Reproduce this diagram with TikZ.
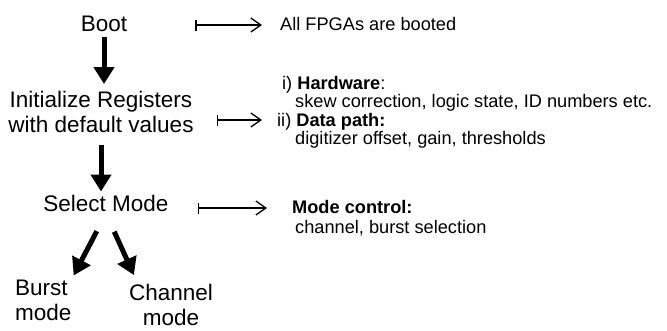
\documentclass[tikz,border=0pt]{standalone}
\usepackage{fontspec}
\setmainfont{Liberation Sans}
\usepackage{tikz}
\usetikzlibrary{arrows.meta, positioning, calc}
\tikzstyle{bigtext} = [font=\fontsize{22.5}{25}\selectfont, inner sep=2pt, align=center]
\tikzstyle{sidetext} = [font=\fontsize{18.2}{17}\selectfont, inner sep=0pt, anchor=west, text height=13pt, text depth=3pt]
\tikzstyle{bigarrow} = [draw, -{Triangle[width=20pt,length=17pt]}, line width=5pt]
\tikzstyle{maparrow} = [draw, {Bar[width=11pt]}-{Straight Barb[length=10pt,width=14pt]}, line width=1.3pt]

\begin{document}
\begin{tikzpicture}[x=1pt, y=1pt]
    \useasboundingbox (0,0) rectangle (667,-330);

    % Boot sequence
    \node (boot) [bigtext] at (104,-24) {Boot};
    \node (init) [bigtext] at (101,-112) {Initialize Registers\\with default values};
    \node (select) [bigtext] at (106,-203) {Select Mode};
    \node (burst) [bigtext, align=left, anchor=west] at (13,-300) {Burst\\mode};
    \node (channel) [bigtext] at (171,-305) {Channel\\mode};

    % Descriptions
    \node (booted) [sidetext] at (280,-25) {All FPGAs are booted};
    \node (hw) [sidetext] at (282,-84) {i) \textbf{Hardware}:};
    \node (hwtext) [sidetext] at (295,-102) {skew correction, logic state, ID numbers etc.};
    \node (dp) [sidetext] at (277,-121) {ii) \textbf{Data path:}};
    \node (dptext) [sidetext] at (295,-139) {digitizer offset, gain, thresholds};
    \node (modectl) [sidetext] at (292,-208) {\textbf{Mode control:}};
    \node (modetext) [sidetext] at (295,-228) {channel, burst selection};

    \draw [bigarrow, shorten <=3pt, shorten >=5pt] (boot) -- (boot |- init.north);
    \draw [bigarrow, shorten <=10pt, shorten >=1pt] (init) -- (init |- select.north);
    \draw [bigarrow, shorten <=20pt] (select.south) -- ([yshift=2pt]burst.north east);
    \draw [bigarrow, shorten <=20pt] (select.south) -- ([xshift=7pt,yshift=7pt]channel.north west);

    \draw [maparrow, shorten <=66pt, shorten >=18pt] (boot.east |- booted) -- (booted);
    \draw [maparrow, shorten <=21pt, shorten >=15pt] ([yshift=1pt]init.east |- dp) -- ([yshift=1pt]dp.west);
    \draw [maparrow, shorten <=27pt, shorten >=25pt] (select.east |- modectl) -- (modectl);
\end{tikzpicture}
\end{document}
